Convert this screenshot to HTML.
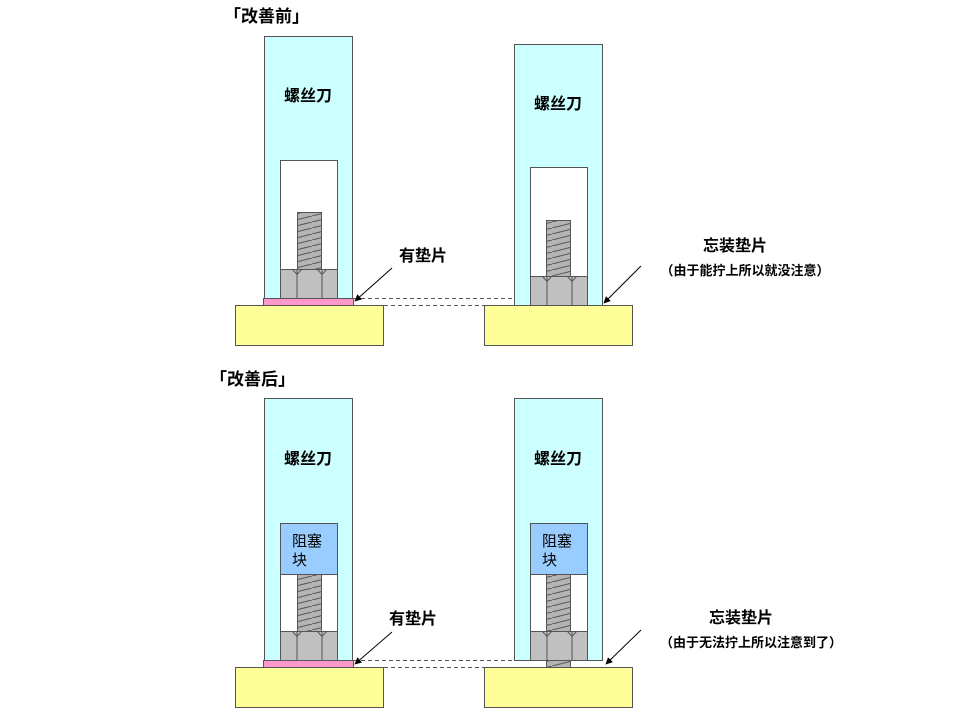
<!DOCTYPE html>
<html><head><meta charset="utf-8"><style>
html,body{margin:0;padding:0;background:#fff;}
svg text{font-family:"Liberation Sans","Noto Sans CJK SC",sans-serif;}
</style></head><body>
<svg width="960" height="720" viewBox="0 0 960 720" xmlns="http://www.w3.org/2000/svg">
<defs>
<pattern id="th" width="24" height="6" patternUnits="userSpaceOnUse">
<rect width="24" height="6" fill="#b4b4b4"/>
<line x1="0" y1="6" x2="24" y2="0" stroke="#555" stroke-width="1"/>
</pattern>
<marker id="ar" viewBox="0 0 10 10" refX="9" refY="5" markerWidth="7" markerHeight="7" orient="auto">
<path d="M0,0 L10,5 L0,10 z" fill="#000"/></marker>
<g id="nut">
<rect x="0" y="0" width="57" height="29" fill="#c0c0c0" stroke="#555"/>
<line x1="16.5" y1="0" x2="16.5" y2="29" stroke="#555"/>
<line x1="41.5" y1="0" x2="41.5" y2="29" stroke="#555"/>
<path d="M12,0 L16.5,5 L21,0 M37,0 L41.5,5 L46,0" fill="none" stroke="#555"/>
</g>
</defs>
<g font-weight="bold" fill="#000">
<text x="224" y="22" font-size="17">「改善前」</text>
<text x="210" y="385" font-size="17">「改善后」</text>
</g>
<!-- top-left -->
<rect x="264.5" y="36.5" width="88" height="262" fill="#ccffff" stroke="#555"/>
<rect x="280.5" y="160.5" width="57" height="138" fill="#fff" stroke="#555"/>
<rect x="297.5" y="212.5" width="24" height="57" fill="url(#th)" stroke="#555"/>
<use href="#nut" x="280.5" y="269.5"/>
<rect x="263.5" y="298.5" width="90" height="7" fill="#ff99cc" stroke="#555"/>
<rect x="235.5" y="305.5" width="148" height="40" fill="#ffff99" stroke="#555"/>
<text x="308" y="101" font-size="16" font-weight="bold" text-anchor="middle">螺丝刀</text>
<!-- top-right -->
<rect x="514.5" y="44.5" width="88" height="261" fill="#ccffff" stroke="#555"/>
<rect x="530.5" y="167.5" width="57" height="138" fill="#fff" stroke="#555"/>
<rect x="546.5" y="220.5" width="24" height="56" fill="url(#th)" stroke="#555"/>
<use href="#nut" x="530.5" y="276.5"/>
<rect x="484.5" y="305.5" width="148" height="40" fill="#ffff99" stroke="#555"/>
<text x="558" y="109" font-size="16" font-weight="bold" text-anchor="middle">螺丝刀</text>
<line x1="354" y1="298.5" x2="514" y2="298.5" stroke="#555" stroke-dasharray="4,3"/>
<line x1="384" y1="305.5" x2="484" y2="305.5" stroke="#555" stroke-dasharray="4,3"/>
<line x1="392" y1="268" x2="355" y2="301" stroke="#000" marker-end="url(#ar)"/>
<text x="423" y="261" font-size="16" font-weight="bold" text-anchor="middle">有垫片</text>
<line x1="641" y1="266" x2="604" y2="303" stroke="#000" marker-end="url(#ar)"/>
<text x="735" y="251" font-size="16" font-weight="bold" text-anchor="middle">忘装垫片</text>
<text x="745" y="275" font-size="13" font-weight="bold" text-anchor="middle">（由于能拧上所以就没注意）</text>
<!-- bottom-left -->
<rect x="264.5" y="398.5" width="88" height="262" fill="#ccffff" stroke="#555"/>
<rect x="280.5" y="574.5" width="57" height="57" fill="#fff" stroke="#555"/>
<rect x="297.5" y="574.5" width="24" height="57" fill="url(#th)" stroke="#555"/>
<rect x="280.5" y="523.5" width="57" height="51" fill="#99ccff" stroke="#555"/>
<text x="292" y="546" font-size="15" fill="#000">阻塞</text>
<text x="292" y="565" font-size="15" fill="#000">块</text>
<use href="#nut" x="280.5" y="631.5"/>
<rect x="263.5" y="660.5" width="90" height="7" fill="#ff99cc" stroke="#555"/>
<rect x="235.5" y="667.5" width="148" height="40" fill="#ffff99" stroke="#555"/>
<text x="308" y="464" font-size="16" font-weight="bold" text-anchor="middle">螺丝刀</text>
<!-- bottom-right -->
<rect x="514.5" y="398.5" width="88" height="262" fill="#ccffff" stroke="#555"/>
<rect x="530.5" y="574.5" width="57" height="57" fill="#fff" stroke="#555"/>
<rect x="546.5" y="574.5" width="24" height="57" fill="url(#th)" stroke="#555"/>
<rect x="530.5" y="523.5" width="57" height="51" fill="#99ccff" stroke="#555"/>
<text x="542" y="546" font-size="15" fill="#000">阻塞</text>
<text x="542" y="565" font-size="15" fill="#000">块</text>
<use href="#nut" x="530.5" y="631.5"/>
<rect x="546.5" y="660.5" width="24" height="7" fill="url(#th)" stroke="#555"/>
<rect x="484.5" y="667.5" width="148" height="40" fill="#ffff99" stroke="#555"/>
<text x="558" y="464" font-size="16" font-weight="bold" text-anchor="middle">螺丝刀</text>
<line x1="354" y1="660.5" x2="514" y2="660.5" stroke="#555" stroke-dasharray="4,3"/>
<line x1="384" y1="667.5" x2="484" y2="667.5" stroke="#555" stroke-dasharray="4,3"/>
<line x1="392" y1="632" x2="355" y2="664" stroke="#000" marker-end="url(#ar)"/>
<text x="413" y="624" font-size="16" font-weight="bold" text-anchor="middle">有垫片</text>
<line x1="641" y1="630" x2="606" y2="664" stroke="#000" marker-end="url(#ar)"/>
<text x="741" y="623" font-size="16" font-weight="bold" text-anchor="middle">忘装垫片</text>
<text x="751" y="647" font-size="13" font-weight="bold" text-anchor="middle">（由于无法拧上所以注意到了）</text>
</svg>
</body></html>
